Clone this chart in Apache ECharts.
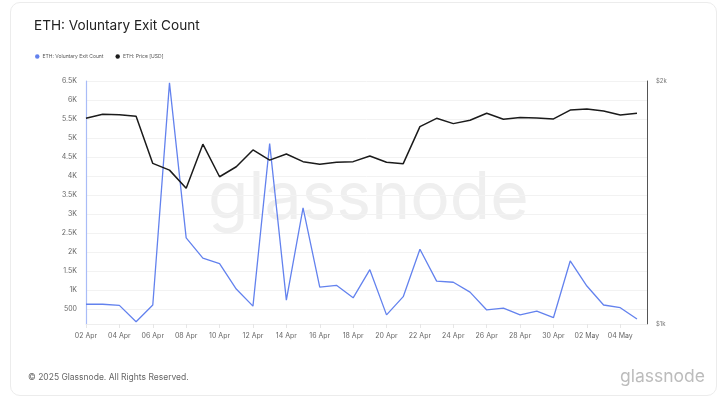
<!DOCTYPE html>
<html>
<head>
<meta charset="utf-8">
<script src="https://cdn.jsdelivr.net/npm/echarts@6/dist/echarts.min.js"></script>
<style>
  html, body { margin: 0; padding: 0; background: #fff; }
  #card {
    position: absolute; left: 10px; top: 2px; width: 707px; height: 394px;
    border: 1px solid #ececec; border-radius: 10px; box-sizing: border-box;
  }
  #chart { position: absolute; left: 0; top: 0; width: 721px; height: 399px; }
</style>
</head>
<body>
<div id="card"></div>
<div id="chart"></div>
<script>
// daily dates, 02 Apr - 05 May 2025
const dates = [
    "02 Apr", "03 Apr", "04 Apr", "05 Apr", "06 Apr", "07 Apr", "08 Apr", "09 Apr",
    "10 Apr", "11 Apr", "12 Apr", "13 Apr", "14 Apr", "15 Apr", "16 Apr", "17 Apr",
    "18 Apr", "19 Apr", "20 Apr", "21 Apr", "22 Apr", "23 Apr", "24 Apr", "25 Apr",
    "26 Apr", "27 Apr", "28 Apr", "29 Apr", "30 Apr", "01 May", "02 May", "03 May",
    "04 May", "05 May",
];

const exitCount = [
    620, 620, 590, 160, 600, 6450, 2370, 1835, 1690, 1020, 570, 4850,
    730, 3160, 1070, 1120, 790, 1530, 340, 820, 2070, 1230, 1200, 940,
    470, 520, 340, 440, 270, 1760, 1100, 600, 530, 230,
];

const priceUsd = [
    1798, 1819, 1817, 1809, 1581, 1551, 1473, 1670, 1522, 1566, 1643, 1596,
    1624, 1589, 1577, 1586, 1589, 1615, 1586, 1580, 1756, 1798, 1771, 1788,
    1824, 1793, 1802, 1800, 1795, 1841, 1846, 1836, 1815, 1824,
];

const leftTicks = [500, 1000, 1500, 2000, 2500, 3000, 3500, 4000, 4500, 5000, 5500, 6000, 6500];
const rightTicks = [1000, 2000];

const BLUE = "#6382ee";
const BLACK = "#1b1b1b";

let myChart = echarts.init(document.querySelector("#chart"));

option = {
    animation: false,
    title: {
        text: "ETH: Voluntary Exit Count",
        left: 29,
        top: 14,
        textStyle: { fontFamily: "Inter", fontSize: 13.6, fontWeight: "normal", color: "#222" },
    },
    legend: {
        left: 30,
        top: 49,
        icon: "circle",
        itemWidth: 4.5,
        itemHeight: 4.5,
        itemGap: 12,
        textStyle: { fontFamily: "Inter", fontSize: 5, color: "#555", padding: [0, 0, 0, -2] },
        data: ["ETH: Voluntary Exit Count", "ETH: Price [USD]"],
    },
    grid: { left: 86, right: 74, top: 81, bottom: 75 },
    xAxis: {
        type: "value",
        min: 0,
        max: 33.6,
        interval: 2,
        axisLine: { show: true, lineStyle: { color: "#eeeeee" } },
        axisTick: { show: true, length: 4, lineStyle: { color: "#e6e6e6" } },
        splitLine: { show: false },
        axisLabel: {
            fontFamily: "Inter",
            fontSize: 7,
            color: "#666",
            margin: 8,
            showMaxLabel: false,
            formatter: function (v) {
                return Number.isInteger(v) && dates[v] ? dates[v] : "";
            },
        },
    },
    yAxis: [
        {
            type: "value",
            min: 100,
            max: 6500,
            position: "left",
            axisLine: { show: true, lineStyle: { color: "#a9bcf7", width: 1.2 } },
            axisTick: { show: false, customValues: leftTicks },
            splitLine: { show: true, lineStyle: { color: "#f2f2f2" } },
            axisLabel: {
                customValues: leftTicks,
                fontFamily: "Inter",
                fontSize: 7,
                color: "#666",
                margin: 9,
                formatter: function (v) {
                    return v >= 1000 ? v / 1000 + "K" : String(v);
                },
            },
        },
        {
            type: "log",
            min: 1000,
            max: 2000,
            position: "right",
            axisLine: { show: true, lineStyle: { color: "#555", width: 1 } },
            axisTick: { show: false },
            splitLine: { show: false },
            axisLabel: {
                customValues: rightTicks,
                fontFamily: "Inter",
                fontSize: 6,
                color: "#777",
                margin: 9,
                formatter: function (v) {
                    return "$" + v / 1000 + "k";
                },
            },
        },
    ],
    graphic: [
        {
            type: "text",
            left: 208,
            top: 166,
            z: -1,
            style: {
                text: "glassnode",
                font: "66px Inter",
                fill: "#efefef",
            },
        },
        {
            type: "text",
            left: 28,
            top: 373,
            style: {
                text: "© 2025 Glassnode. All Rights Reserved.",
                font: "8.5px Inter",
                fill: "#666",
            },
        },
        {
            type: "text",
            right: 16,
            top: 368,
            style: {
                text: "glassnode",
                font: "17.5px Inter",
                fill: "#bcbcbc",
            },
        },
    ],
    series: [
        {
            name: "ETH: Voluntary Exit Count",
            type: "line",
            yAxisIndex: 0,
            symbol: "none",
            color: BLUE,
            lineStyle: { width: 1.3, color: BLUE },
            data: exitCount.map((v, i) => [i, v]),
        },
        {
            name: "ETH: Price [USD]",
            type: "line",
            yAxisIndex: 1,
            symbol: "none",
            color: BLACK,
            lineStyle: { width: 1.5, color: BLACK },
            data: priceUsd.map((v, i) => [i, v]),
        },
    ],
};
myChart.setOption(option);
window.addEventListener("resize", function () {
    myChart.resize();
});
</script>
</body>
</html>
